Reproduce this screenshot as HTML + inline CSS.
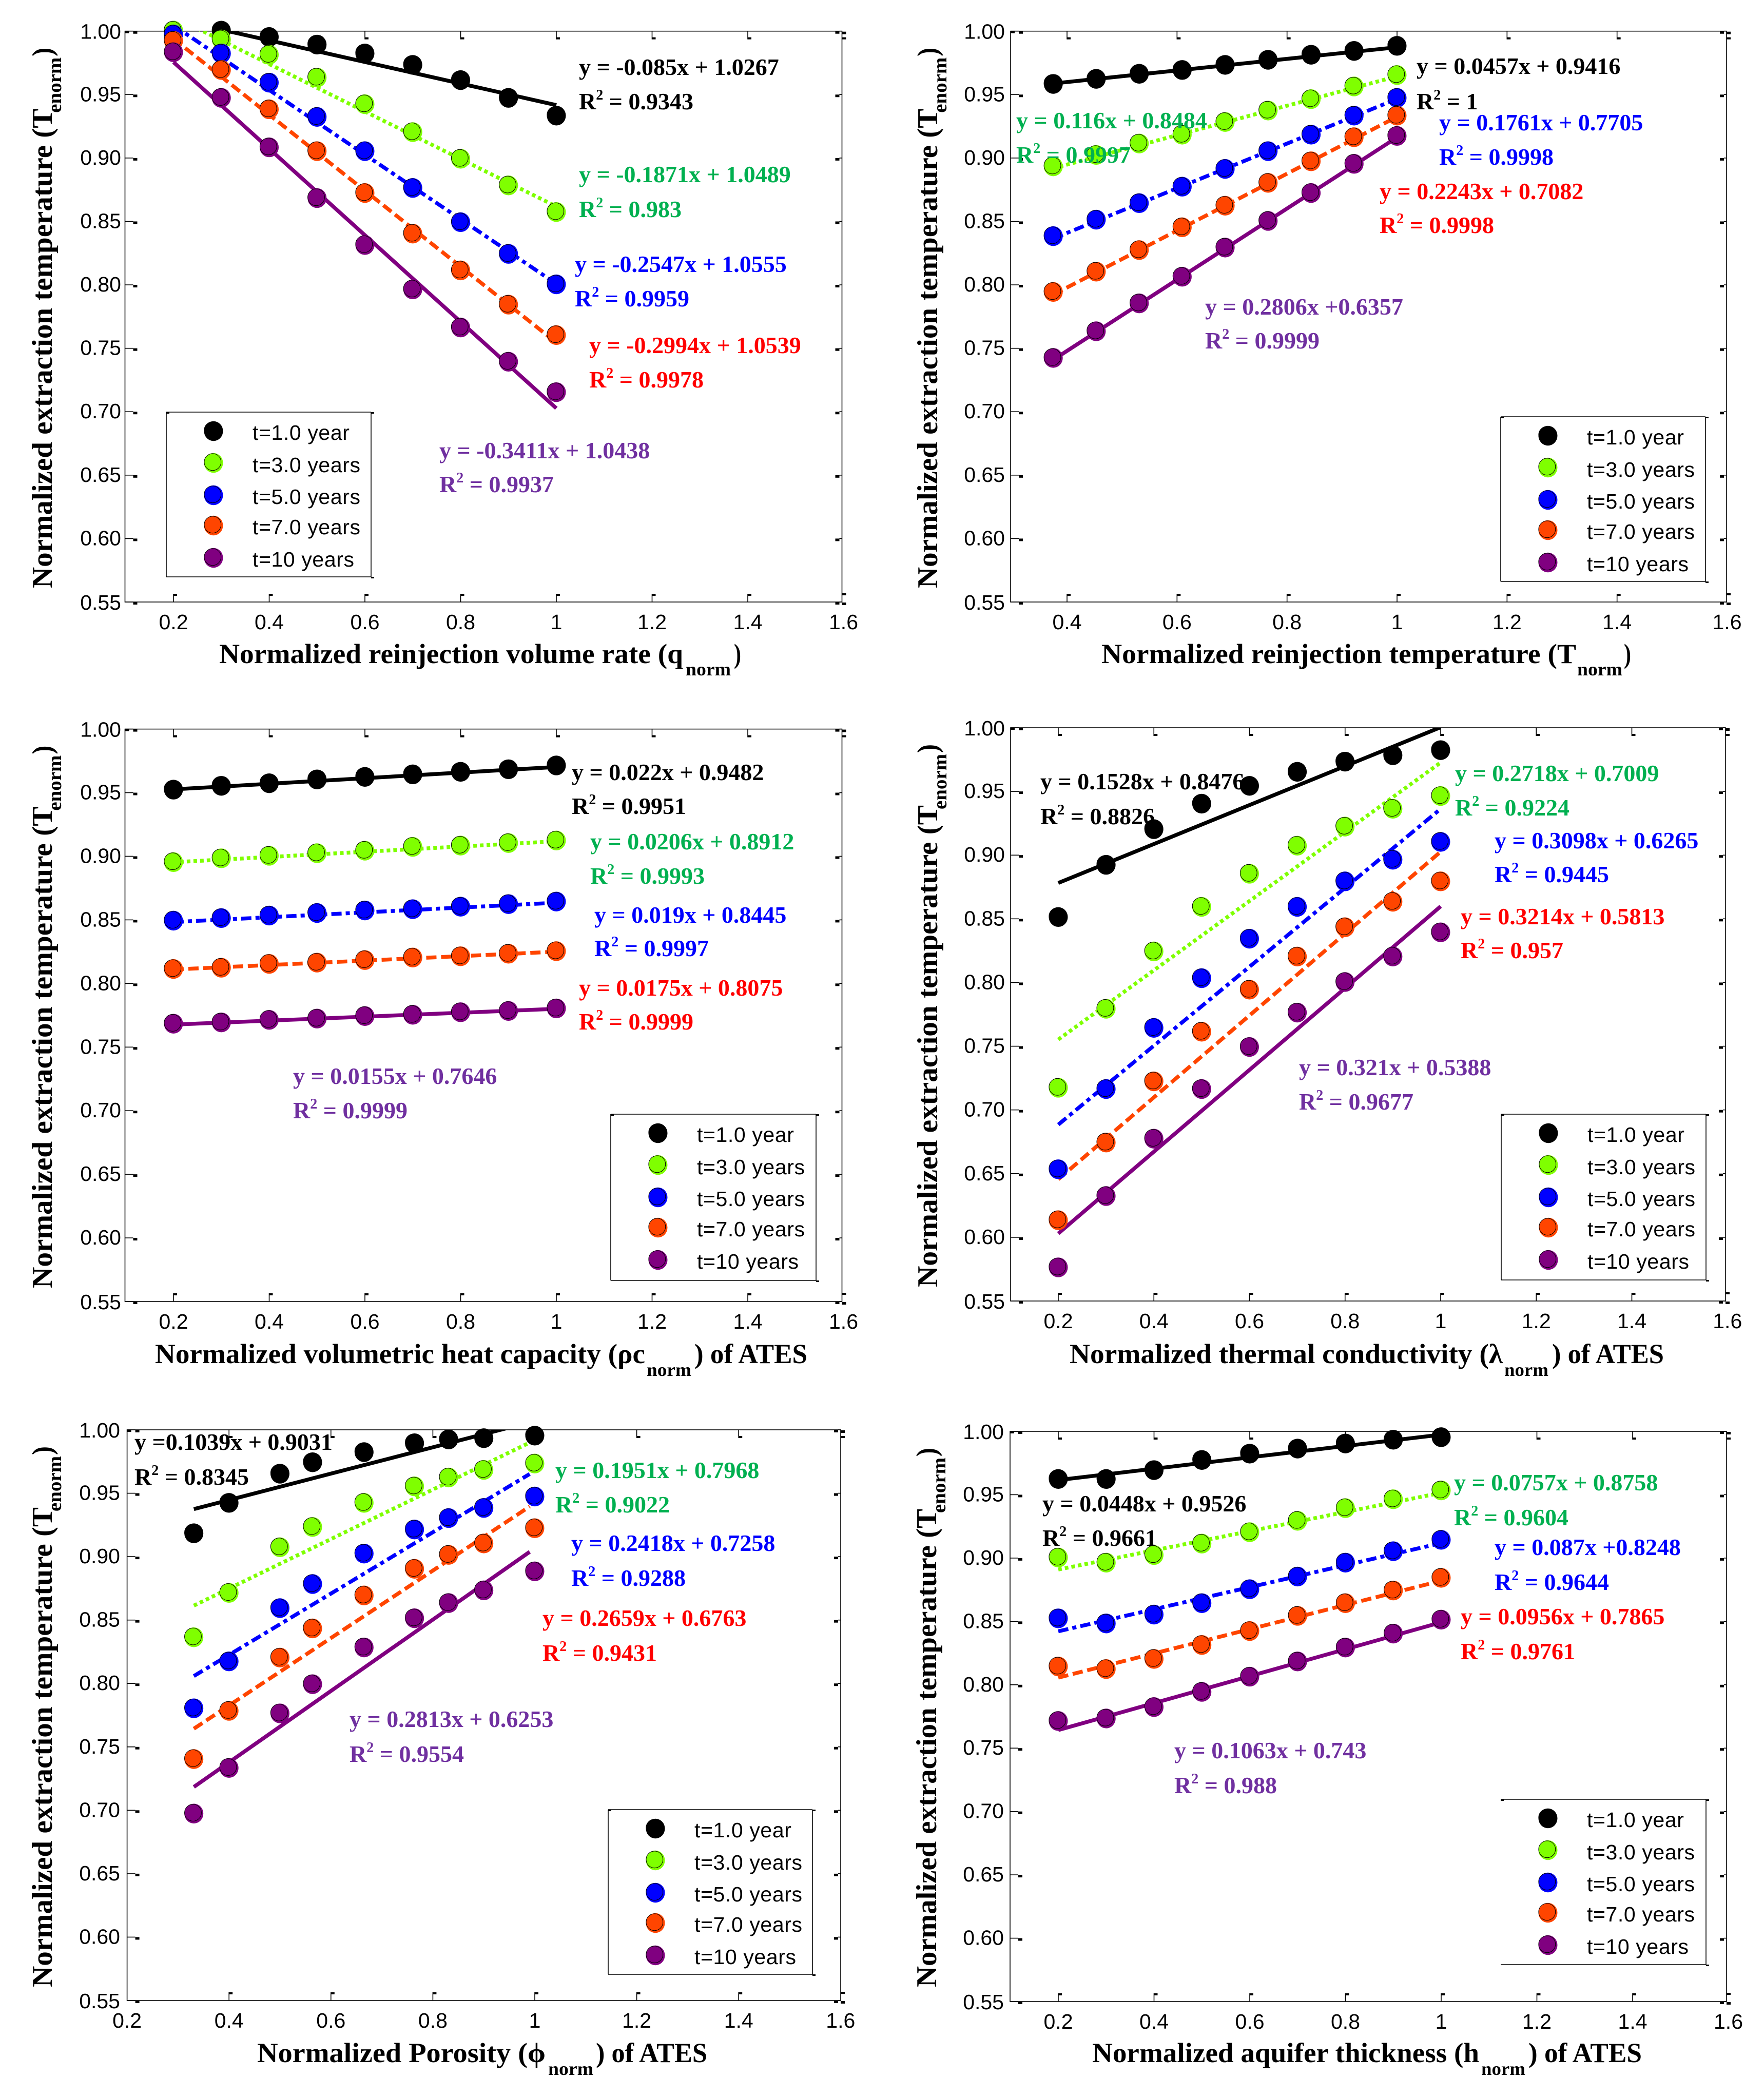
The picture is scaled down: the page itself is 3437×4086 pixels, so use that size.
<!DOCTYPE html>
<html lang="en">
<head>
<meta charset="utf-8">
<title>Normalized extraction temperature sensitivity charts</title>
<style>
html,body{margin:0;padding:0;background:#fff}
svg{display:block}
.tick{font-family:"Liberation Sans",sans-serif;font-size:41px;fill:#000}
.leg{font-family:"Liberation Sans",sans-serif;font-size:41px;fill:#000;letter-spacing:.6px}
.ttl{font-family:"Liberation Serif",serif;font-weight:bold;fill:#000}
.eq{font-family:"Liberation Serif",serif;font-weight:bold;font-size:46px}
</style>
</head>
<body>
<svg id="fig" xmlns="http://www.w3.org/2000/svg" width="3437" height="4086" viewBox="0 0 3437 4086"></svg>
<script>
// ---------- shared labels ----------
const seriesNames = ['t=1.0 year', 't=3.0 years', 't=5.0 years', 't=7.0 years', 't=10 years'];
const yTickValues = [1.00, 0.95, 0.90, 0.85, 0.80, 0.75, 0.70, 0.65, 0.60, 0.55];
const yTickLabels = ['1.00', '0.95', '0.90', '0.85', '0.80', '0.75', '0.70', '0.65', '0.60', '0.55'];
const xTicksA = [0.2, 0.4, 0.6, 0.8, 1, 1.2, 1.4, 1.6];
const xLabelsA = ['0.2', '0.4', '0.6', '0.8', '1', '1.2', '1.4', '1.6'];
const xTicksB = [0.4, 0.6, 0.8, 1, 1.2, 1.4, 1.6];
const xLabelsB = ['0.4', '0.6', '0.8', '1', '1.2', '1.4', '1.6'];

// ---------- panel 1: reinjection volume rate ----------
const p1X = [0.2, 0.3, 0.4, 0.5, 0.6, 0.7, 0.8, 0.9, 1];
const p1T1 = [1.000, 1.000, 0.995, 0.989, 0.982, 0.973, 0.961, 0.947, 0.933];
const p1T3 = [1.000, 0.993, 0.981, 0.963, 0.942, 0.920, 0.899, 0.878, 0.857];
const p1T5 = [0.997, 0.982, 0.959, 0.932, 0.905, 0.876, 0.849, 0.824, 0.800];
const p1T7 = [0.992, 0.969, 0.938, 0.905, 0.872, 0.840, 0.811, 0.784, 0.760];
const p1T10 = [0.983, 0.947, 0.908, 0.868, 0.831, 0.796, 0.766, 0.739, 0.715];
const p1Slopes = [-0.085, -0.1871, -0.2547, -0.2994, -0.3411];
const p1Intercepts = [1.0267, 1.0489, 1.0555, 1.0539, 1.0438];
const p1Eq = ['y = -0.085x + 1.0267', 'y = -0.1871x + 1.0489', 'y = -0.2547x + 1.0555', 'y = -0.2994x + 1.0539', 'y = -0.3411x + 1.0438'];
const p1R2 = ['0.9343', '0.983', '0.9959', '0.9978', '0.9937'];

// ---------- panel 2: reinjection temperature ----------
const p2X = [0.375, 0.4531, 0.5313, 0.6094, 0.6875, 0.7656, 0.8438, 0.9219, 1];
const p2T1 = [0.958, 0.962, 0.966, 0.969, 0.973, 0.977, 0.981, 0.984, 0.988];
const p2T3 = [0.893, 0.902, 0.911, 0.918, 0.928, 0.937, 0.946, 0.956, 0.965];
const p2T5 = [0.838, 0.851, 0.864, 0.877, 0.891, 0.905, 0.918, 0.933, 0.947];
const p2T7 = [0.794, 0.810, 0.827, 0.845, 0.862, 0.880, 0.897, 0.916, 0.933];
const p2T10 = [0.742, 0.763, 0.785, 0.806, 0.829, 0.850, 0.872, 0.895, 0.917];
const p2Slopes = [0.0457, 0.116, 0.1761, 0.2243, 0.2806];
const p2Intercepts = [0.9416, 0.8484, 0.7705, 0.7082, 0.6357];
const p2Eq = ['y = 0.0457x + 0.9416', 'y = 0.116x + 0.8484', 'y = 0.1761x + 0.7705', 'y = 0.2243x + 0.7082', 'y = 0.2806x +0.6357'];
const p2R2 = ['1', '0.9997', '0.9998', '0.9998', '0.9999'];

// ---------- panel 3: volumetric heat capacity ----------
const p3X = [0.2, 0.3, 0.4, 0.5, 0.6, 0.7, 0.8, 0.9, 1];
const p3T1 = [0.952, 0.955, 0.957, 0.960, 0.962, 0.964, 0.966, 0.968, 0.971];
const p3T3 = [0.895, 0.898, 0.900, 0.902, 0.904, 0.907, 0.908, 0.910, 0.912];
const p3T5 = [0.849, 0.851, 0.853, 0.855, 0.857, 0.858, 0.860, 0.862, 0.864];
const p3T7 = [0.811, 0.812, 0.815, 0.816, 0.818, 0.820, 0.821, 0.823, 0.825];
const p3T10 = [0.768, 0.769, 0.771, 0.772, 0.774, 0.775, 0.777, 0.778, 0.780];
const p3Slopes = [0.022, 0.0206, 0.019, 0.0175, 0.0155];
const p3Intercepts = [0.9482, 0.8912, 0.8445, 0.8075, 0.7646];
const p3Eq = ['y = 0.022x + 0.9482', 'y = 0.0206x + 0.8912', 'y = 0.019x + 0.8445', 'y = 0.0175x + 0.8075', 'y = 0.0155x + 0.7646'];
const p3R2 = ['0.9951', '0.9993', '0.9997', '0.9999', '0.9999'];

// ---------- panel 4: thermal conductivity ----------
const p4X = [0.2, 0.3, 0.4, 0.5, 0.6, 0.7, 0.8, 0.9, 1];
const p4T1 = [0.851, 0.892, 0.920, 0.940, 0.954, 0.965, 0.973, 0.978, 0.982];
const p4T3 = [0.717, 0.779, 0.824, 0.859, 0.885, 0.907, 0.922, 0.936, 0.946];
const p4T5 = [0.653, 0.716, 0.764, 0.803, 0.834, 0.859, 0.879, 0.896, 0.910];
const p4T7 = [0.613, 0.674, 0.722, 0.761, 0.794, 0.820, 0.843, 0.863, 0.879];
const p4T10 = [0.576, 0.632, 0.677, 0.716, 0.749, 0.776, 0.800, 0.820, 0.839];
const p4Slopes = [0.1528, 0.2718, 0.3098, 0.3214, 0.321];
const p4Intercepts = [0.8476, 0.7009, 0.6265, 0.5813, 0.5388];
const p4Eq = ['y = 0.1528x + 0.8476', 'y = 0.2718x + 0.7009', 'y = 0.3098x + 0.6265', 'y = 0.3214x + 0.5813', 'y = 0.321x + 0.5388'];
const p4R2 = ['0.8826', '0.9224', '0.9445', '0.957', '0.9677'];

// ---------- panel 5: porosity ----------
const p5X = [0.331, 0.4, 0.5, 0.564, 0.665, 0.764, 0.831, 0.9, 1];
const p5T1 = [0.918, 0.942, 0.965, 0.974, 0.982, 0.989, 0.992, 0.993, 0.995];
const p5T3 = [0.836, 0.871, 0.907, 0.923, 0.942, 0.955, 0.962, 0.968, 0.973];
const p5T5 = [0.780, 0.817, 0.859, 0.878, 0.902, 0.921, 0.930, 0.938, 0.947];
const p5T7 = [0.740, 0.778, 0.820, 0.843, 0.869, 0.890, 0.901, 0.910, 0.922];
const p5T10 = [0.697, 0.733, 0.776, 0.799, 0.828, 0.851, 0.863, 0.873, 0.888];
const p5Slopes = [0.1039, 0.1951, 0.2418, 0.2659, 0.2813];
const p5Intercepts = [0.9031, 0.7968, 0.7258, 0.6763, 0.6253];
const p5Eq = ['y =0.1039x + 0.9031', 'y = 0.1951x + 0.7968', 'y = 0.2418x + 0.7258', 'y = 0.2659x + 0.6763', 'y = 0.2813x + 0.6253'];
const p5R2 = ['0.8345', '0.9022', '0.9288', '0.9431', '0.9554'];

// ---------- panel 6: aquifer thickness ----------
const p6X = [0.2, 0.3, 0.4, 0.5, 0.6, 0.7, 0.8, 0.9, 1];
const p6T1 = [0.962, 0.962, 0.969, 0.977, 0.982, 0.986, 0.990, 0.993, 0.995];
const p6T3 = [0.900, 0.896, 0.902, 0.911, 0.920, 0.929, 0.939, 0.946, 0.953];
const p6T5 = [0.852, 0.848, 0.855, 0.864, 0.875, 0.885, 0.896, 0.905, 0.914];
const p6T7 = [0.814, 0.812, 0.820, 0.831, 0.842, 0.854, 0.864, 0.874, 0.884];
const p6T10 = [0.771, 0.773, 0.782, 0.794, 0.806, 0.818, 0.829, 0.840, 0.851];
const p6Slopes = [0.0448, 0.0757, 0.087, 0.0956, 0.1063];
const p6Intercepts = [0.9526, 0.8758, 0.8248, 0.7865, 0.743];
const p6Eq = ['y = 0.0448x + 0.9526', 'y = 0.0757x + 0.8758', 'y = 0.087x +0.8248', 'y = 0.0956x + 0.7865', 'y = 0.1063x + 0.743'];
const p6R2 = ['0.9661', '0.9604', '0.9644', '0.9761', '0.988'];

// ---------- styling ----------
const markerColors = ['#000000', '#7FFF00', '#0000FF', '#FF4500', '#800080'];
const eqColors = ['#000000', '#00B050', '#0000FF', '#FF0000', '#7030A0'];
const dashes = ['', '7 6', '20 8 8 8', '20 9', ''];

// ---------- layout ----------
const panels = [
 {id:1,L:243.5,R:1640.5,T:60.7,B:1173,xr:[0.2,338,1,1084],xt:xTicksA,xl:xLabelsA,X:p1X,S:[p1T1,p1T3,p1T5,p1T7,p1T10],m:p1Slopes,c:p1Intercepts,eq:p1Eq,r2:p1R2,fitEnd:1,
  ylx:236,yb:101,ybot:1146,
  title:[['Normalized reinjection volume rate (q',427,1331],['norm',1336,1424],[')',1430,1444]],tb:1292,sb:1316,
  leg:[324,803,399,321],
  ann:[[1126,145,212],[1126,354,422],[1118,529,596],[1146,687,754],[854,892,958]]},
 {id:2,L:1969,R:3364,T:60.7,B:1173,xr:[0.4,2079,1,2722],xt:xTicksB,xl:xLabelsB,X:p2X,S:[p2T1,p2T3,p2T5,p2T7,p2T10],m:p2Slopes,c:p2Intercepts,eq:p2Eq,r2:p2R2,fitEnd:1,
  ylx:1958,yb:1826,ybot:1146,
  title:[['Normalized reinjection temperature (T',2146,3071],['norm',3073,3161],[')',3164,3178]],tb:1292,sb:1316,
  leg:[2924,812,399,321],
  ann:[[2758,143,212],[1978,249,316],[2802,253,320],[2686,387,453],[2346,612,678]]},
 {id:3,L:243.5,R:1640.5,T:1420.6,B:2536,xr:[0.2,338,1,1084],xt:xTicksA,xl:xLabelsA,X:p3X,S:[p3T1,p3T3,p3T5,p3T7,p3T10],m:p3Slopes,c:p3Intercepts,eq:p3Eq,r2:p3R2,fitEnd:1,
  ylx:236,yb:101,ybot:2510,
  title:[['Normalized volumetric heat capacity (\u03C1c',302,1257],['norm',1260,1347],[') of ATES',1353,1573]],tb:2656,sb:2681,
  leg:[1190,2171,400,324],
  ann:[[1112,1519,1585],[1148,1654,1721],[1156,1797,1862],[1126,1939,2005],[569,2111,2178]]},
 {id:4,L:1969,R:3362,T:1418,B:2535,xr:[0.2,2062,1,2807],xt:xTicksA,xl:xLabelsA,X:p4X,S:[p4T1,p4T3,p4T5,p4T7,p4T10],m:p4Slopes,c:p4Intercepts,eq:p4Eq,r2:p4R2,fitEnd:1,
  ylx:1958,yb:1826,ybot:2508,
  title:[['Normalized thermal conductivity (\u03BB',2084,2928],['norm',2931,3017],[') of ATES',3024,3242]],tb:2656,sb:2681,
  leg:[2925,2171,399,323],
  ann:[[2025,1537,1605],[2833,1521,1588],[2910,1652,1718],[2844,1800,1866],[2529,2094,2161]]},
 {id:5,L:247.6,R:1638,T:2786,B:3898,xr:[0.2,247.6,1,1042],xt:xTicksA,xl:xLabelsA,X:p5X,S:[p5T1,p5T3,p5T5,p5T7,p5T10],m:p5Slopes,c:p5Intercepts,eq:p5Eq,r2:p5R2,fitEnd:0.99,
  ylx:234,yb:101,ybot:3872,
  title:[['Normalized  Porosity (\u03D5',501,1063],['norm',1068,1156],[') of ATES',1161,1378]],tb:4018,sb:4043,
  leg:[1185,3526,398,321],
  ann:[[260,2824,2892],[1080,2879,2946],[1111,3021,3089],[1055,3167,3235],[679,3364,3432]]},
 {id:6,L:1968,R:3364,T:2789,B:3900,xr:[0.2,2062,1,2808],xt:xTicksA,xl:xLabelsA,X:p6X,S:[p6T1,p6T3,p6T5,p6T7,p6T10],m:p6Slopes,c:p6Intercepts,eq:p6Eq,r2:p6R2,fitEnd:1,
  ylx:1956,yb:1824,ybot:3872,
  title:[['Normalized aquifer thickness (h',2128,2882],['norm',2886,2972],[') of ATES',2978,3199]],tb:4018,sb:4043,
  leg:[2924,3506,400,322],noLegLeft:true,
  ann:[[2029,2944,3011],[2831,2903,2971],[2910,3029,3097],[2844,3164,3232],[2286,3425,3493]]}
];

const NS = 'http://www.w3.org/2000/svg';
const root = document.getElementById('fig');

function mk(parent, tag, attrs, txt) {
  const e = document.createElementNS(NS, tag);
  for (const k in attrs) e.setAttribute(k, attrs[k]);
  if (txt !== undefined) e.textContent = txt;
  parent.appendChild(e);
  return e;
}
function tagEl(e, name, inter) {
  
  
  return e;
}
function hline(g, x1, x2, y) { return mk(g, 'line', {x1:x1, x2:x2, y1:y, y2:y, stroke:'#000', 'stroke-width':1.6}); }
function vline(g, x, y1, y2) { return mk(g, 'line', {x1:x, x2:x, y1:y1, y2:y2, stroke:'#000', 'stroke-width':1.6}); }
function block(g, x, y, w, h) { return mk(g, 'rect', {x:x, y:y, width:w, height:h, fill:'#000'}); }

function drawMarker(g, cx, cy, i) {
  const fill = mk(g, 'ellipse', {cx:cx, cy:cy, rx:18.5, ry:19.2, fill:markerColors[i]});
  const ring = mk(g, 'circle', {cx:cx - 1.7, cy:cy - 1.7, r:16.4, fill:'none', stroke:'#000', 'stroke-width':1});
  return [fill, ring];
}

panels.forEach(function (p) {
  const sx = function (v) { return p.xr[1] + (v - p.xr[0]) * (p.xr[3] - p.xr[1]) / (p.xr[2] - p.xr[0]); };
  const sy = function (v) { return p.T + (1 - v) * (p.B - p.T) / 0.45; };

  const g = mk(root, 'g', {});
  tagEl(g, 'chart-panel-' + p.id, false);

  // clip for fit lines
  const defs = mk(g, 'defs', {});
  const cp = mk(defs, 'clipPath', {id:'clip' + p.id});
  mk(cp, 'rect', {x:p.L, y:p.T, width:p.R - p.L, height:p.B - p.T});

  // axes frame
  const frame = mk(g, 'rect', {x:p.L, y:p.T, width:p.R - p.L, height:p.B - p.T, fill:'none', stroke:'#000', 'stroke-width':1.6});
  tagEl(frame, 'plot-frame', false);

  // y ticks
  const yAxis = mk(g, 'g', {});
  tagEl(yAxis, 'y-axis', false);
  yTickValues.forEach(function (v, i) {
    const y = sy(v);
    hline(yAxis, p.L, p.L + 16, y);
    block(yAxis, p.L + 16, y, 8, 5);
    hline(yAxis, p.R - 5, p.R, y);
    block(yAxis, p.R - 13, y, 8, 5);
    const t = mk(yAxis, 'text', {x:p.ylx, y:y + (i === 0 || i === 9 ? 15 : 13), 'text-anchor':'end', class:'tick'}, yTickLabels[i]);
    
    
  });

  // x ticks
  const xAxis = mk(g, 'g', {});
  tagEl(xAxis, 'x-axis', false);
  p.xt.forEach(function (v, i) {
    const x = sx(v);
    if (Math.abs(x - p.L) > 8 && Math.abs(x - p.R) > 8) {
      vline(xAxis, x, p.B, p.B - 16);
      block(xAxis, x, p.B - 16, 7, 4);
      vline(xAxis, x, p.T, p.T + 16);
      block(xAxis, x, p.T + 12, 7, 4);
    }
    const t = mk(xAxis, 'text', {x:x, y:p.B + 53, 'text-anchor':'middle', class:'tick'}, p.xl[i]);
    
    
  });
  // corner marks
  block(xAxis, p.R, p.B + 1, 8, 5);
  block(xAxis, p.R, p.B - 17, 8, 4);
  block(xAxis, p.R, p.T + 1, 8, 5);
  block(xAxis, p.R, p.T + 12, 8, 4);
  block(xAxis, p.L, p.T, 8, 4);

  // fit lines from the printed slope / intercept values
  const xs = p.X;
  p.m.forEach(function (slope, i) {
    const x1 = xs[0], x2 = p.fitEnd;
    const line = mk(g, 'line', {
      x1:sx(x1), y1:sy(slope * x1 + p.c[i]),
      x2:sx(x2), y2:sy(slope * x2 + p.c[i]),
      stroke:markerColors[i], 'stroke-width':7.5, fill:'none', 'clip-path':'url(#clip' + p.id + ')'
    });
    if (dashes[i]) line.setAttribute('stroke-dasharray', dashes[i]);
    
    
  });

  // data points
  p.S.forEach(function (vals, i) {
    const sg = mk(g, 'g', {});
    
    
    vals.forEach(function (v, j) {
      const pt = mk(sg, 'g', {});
      
      
      drawMarker(pt, sx(xs[j]), sy(v) - 1, i);
    });
  });

  // annotations
  p.ann.forEach(function (a, i) {
    const eq = mk(g, 'text', {x:a[0] + 2, y:a[1] + 1, class:'eq', fill:eqColors[i]}, p.eq[i]);
    
    
    const r = mk(g, 'text', {x:a[0] + 2, y:a[2] + 1, class:'eq', fill:eqColors[i]});
    
    
    mk(r, 'tspan', {}, 'R');
    mk(r, 'tspan', {dy:-19, 'font-size':28}, '2');
    mk(r, 'tspan', {dy:19}, ' = ' + p.r2[i]);
  });

  // y title (rotated)
  const ytg = mk(g, 'g', {});
  tagEl(ytg, 'y-axis-title', false);
  const topY = p.T;
  function rot(parent, s, x, yStart, len, size) {
    const e = mk(parent, 'text', {x:x, y:yStart, class:'ttl', 'font-size':size,
      transform:'rotate(-90 ' + x + ' ' + yStart + ')',
      textLength:len, lengthAdjust:'spacingAndGlyphs'}, s);
    return e;
  }
  rot(ytg, 'Normalized extraction temperature (T', p.yb, p.ybot, p.ybot - (topY + 151), 56);
  rot(ytg, 'enorm', p.yb + 18, topY + 159, 108, 38);
  rot(ytg, ')', p.yb, topY + 49, 17, 56);

  // x title
  const xtg = mk(g, 'g', {});
  tagEl(xtg, 'x-axis-title', false);
  p.title.forEach(function (seg, i) {
    const isSub = i === 1;
    mk(xtg, 'text', {x:seg[1], y:isSub ? p.sb : p.tb, class:'ttl', 'font-size':isSub ? 36 : 54,
      textLength:seg[2] - seg[1], lengthAdjust:'spacingAndGlyphs', 'xml:space':'preserve'}, seg[0]);
  });

  // legend
  const lx = p.leg[0], ly = p.leg[1], lw = p.leg[2], lh = p.leg[3];
  const lg = mk(g, 'g', {});
  tagEl(lg, 'legend', false);
  hline(lg, lx, lx + lw, ly);
  hline(lg, lx, lx + lw, ly + lh);
  vline(lg, lx + lw, ly, ly + lh);
  if (!p.noLegLeft) vline(lg, lx, ly, ly + lh);
  block(lg, lx, ly, 6, 3);
  block(lg, lx + lw, ly, 6, 3);
  block(lg, lx + lw, ly + lh, 6, 3);
  const mY = [37, 99, 162, 221, 284];
  const tY = [54, 117, 179, 238, 301];
  seriesNames.forEach(function (name, i) {
    const en = mk(lg, 'g', {});
    
    
    drawMarker(en, lx + 92, ly + mY[i], i);
    mk(en, 'text', {x:lx + 168, y:ly + tY[i], class:'leg'}, name);
  });
});
</script>
</body>
</html>
